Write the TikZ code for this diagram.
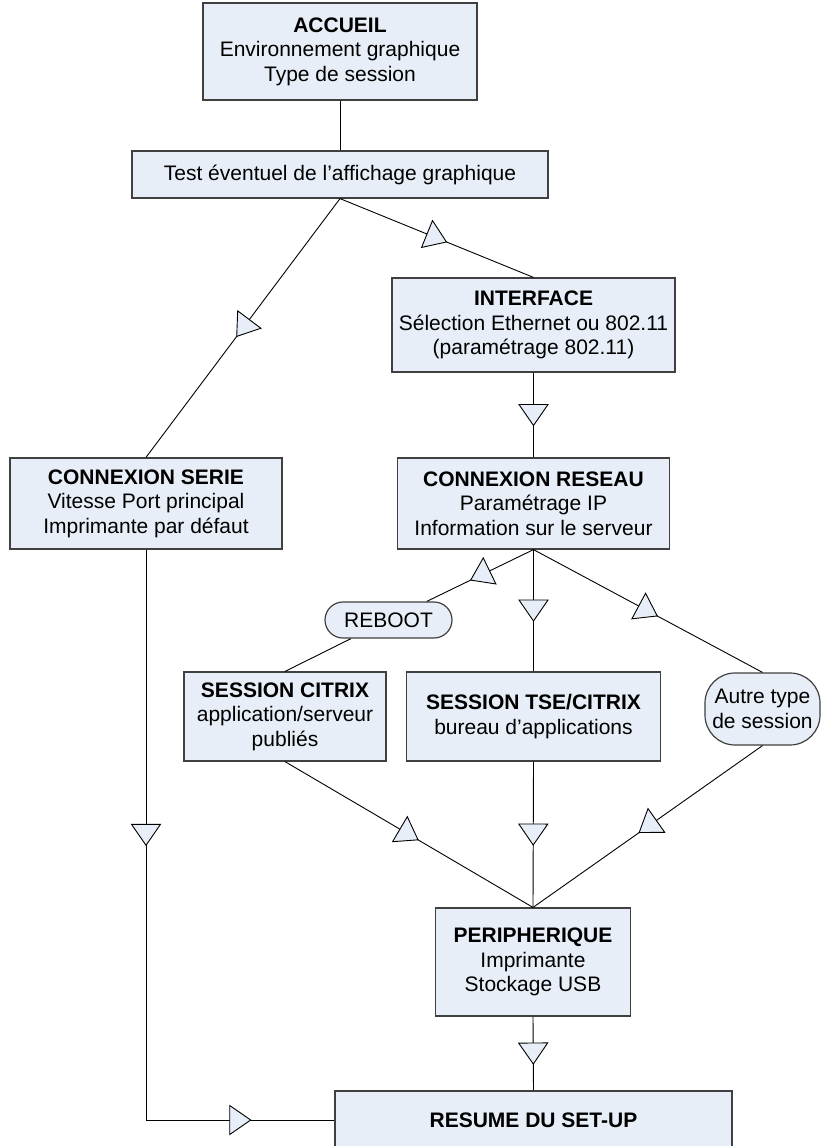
\documentclass[tikz,border=0pt]{standalone}
\usepackage{fontspec}
\setmainfont{Liberation Sans}
\usetikzlibrary{decorations.markings}
\definecolor{boxfill}{RGB}{232,238,247}
\definecolor{boxline}{RGB}{64,64,64}
\tikzset{
  box/.style={draw=boxline,fill=boxfill,line width=1.2pt,align=center,inner sep=0pt,
    font=\fontsize{21}{24.5}\selectfont},
  rbox/.style={box,rounded corners=#1},
  link/.style={draw=black,line width=0.9pt},
  flow/.style={link,postaction={decorate},
    decoration={markings,mark=at position 0.5 with {
      \filldraw[fill=boxfill,draw=black,line width=0.9pt]
        (-10.5pt,-14.5pt) -- (10.5pt,0pt) -- (-10.5pt,14.5pt) -- cycle;}}}
}
\begin{document}
\begin{tikzpicture}[x=1pt,y=-1pt]
\useasboundingbox (0,0) rectangle (821,1146);
\clip (0,0) rectangle (821,1146);
\fill[white] (0,0) rectangle (821,1146);

\node[box,minimum width=274pt,minimum height=97pt] (accueil) at (340,51.5)
  {\textbf{ACCUEIL}\\Environnement graphique\\Type de session};
\node[box,minimum width=416pt,minimum height=47pt] (test) at (340,174.5)
  {Test éventuel de l’affichage graphique};
\node[box,minimum width=283pt,minimum height=94pt] (interface) at (533.5,325)
  {\textbf{INTERFACE}\\Sélection Ethernet ou 802.11\\(paramétrage 802.11)};
\node[box,minimum width=272pt,minimum height=91pt] (serie) at (146,503.5)
  {\textbf{CONNEXION SERIE}\\Vitesse Port principal\\Imprimante par défaut};
\node[box,minimum width=272pt,minimum height=91pt] (reseau) at (533.5,503.5)
  {\textbf{CONNEXION RESEAU}\\Paramétrage IP\\Information sur le serveur};
\node[rbox=18pt,minimum width=127pt,minimum height=36pt] (reboot) at (388.5,620)
  {REBOOT};
\node[box,minimum width=202pt,minimum height=89pt] (citrix) at (285,716.5)
  {\textbf{SESSION CITRIX}\\application/serveur\\publiés};
\node[box,minimum width=254pt,minimum height=89pt] (tse) at (533.5,716.5)
  {\textbf{SESSION TSE/CITRIX}\\bureau d’applications};
\node[rbox=30pt,minimum width=115pt,minimum height=72pt] (autre) at (762.5,709)
  {Autre type\\de session};
\node[box,minimum width=195pt,minimum height=108pt] (periph) at (533,962)
  {\textbf{PERIPHERIQUE}\\Imprimante\\Stockage USB};
\node[box,minimum width=397pt,minimum height=58pt] (resume) at (533.5,1120)
  {\textbf{RESUME DU SET-UP}};

\coordinate (corner) at (serie.south |- resume.west);

\draw[link] (accueil.south) -- (test.north);
\draw[flow] (test.south) -- (interface.north);
\draw[flow] (test.south) -- (serie.north);
\draw[flow] (interface.south) -- (reseau.north);
\draw[flow] (reseau.south) -- (reboot);
\draw[link] (reboot) -- (citrix.north);
\draw[flow] (reseau.south) -- (tse.north);
\draw[flow] (reseau.south) -- (autre.north);
\draw[flow] (citrix.south) -- (periph.north);
\draw[flow] (tse.south) -- (periph.north);
\draw[flow] (autre.south) -- (periph.north);
\draw[flow] (periph.south) -- (resume.north);
\draw[flow] (serie.south) -- (corner);
\draw[flow] (corner) -- (resume.west);
\end{tikzpicture}
\end{document}
